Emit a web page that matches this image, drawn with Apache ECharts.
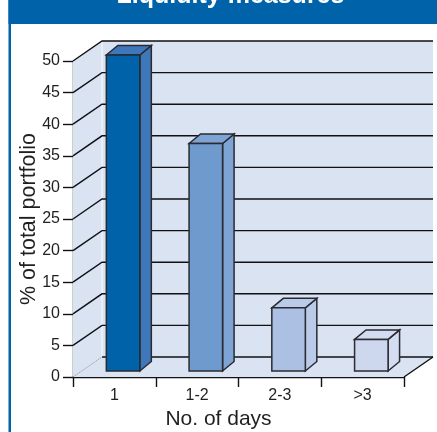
<!DOCTYPE html>
<html>
<head>
<meta charset="utf-8">
<style>html,body{margin:0;padding:0;background:#fff}#chart{width:437px;height:432px}</style>
<script src="https://cdn.jsdelivr.net/npm/echarts@6/dist/echarts.min.js"></script>
</head>
<body>
<div id="chart"></div>
<script>
// Liquidity profile of the portfolio, drawn as pseudo-3D columns.
const titleText = 'Liquidity measures';
const yAxisName = '% of total portfolio';
const xAxisName = 'No. of days';
const categories = ['1', '1-2', '2-3', '>3'];
const shareOfPortfolio = [50, 36, 10, 5];
const wallLevels = [5, 10, 15, 20, 25, 30, 35, 40, 45, 50];
const frontColors = ['#0063a9', '#6f9acd', '#acc0e4', '#cdd7ee'];
const sideColors = ['#3f78ba', '#7ea4d6', '#b9cbe9', '#d3dcf0'];

const WALL_DX = 29, WALL_DY = -20;         // depth of the chart box
const BAR_SHIFT_X = 8.7, BAR_SHIFT_Y = -6; // column start inside the floor
const BAR_DX = 11.5, BAR_DY = -9.5;        // depth of a column
const BAR_W = 33.5;
const INK = '#111114';
const FONT = 'Liberation Sans';
const textColor = '#1f1f22';

const chart = echarts.init(document.getElementById('chart'));
const ln = { stroke: INK, lineWidth: 1.4 };

function poly(points, fill) {
  return { type: 'polygon', shape: { points }, style: { fill, stroke: 'none' } };
}

// Floor and back wall: built from the grid rectangle, so they follow the axes.
function renderBox(params, api) {
  const cs = params.coordSys;
  const left = cs.x, right = cs.x + cs.width, bottom = cs.y + cs.height, top = cs.y;
  const fill = '#dae3f2';
  const children = [
    poly([[left, bottom], [left + WALL_DX, bottom + WALL_DY], [left + WALL_DX, top + WALL_DY], [left, top]], fill),
    poly([[left + WALL_DX, bottom + WALL_DY], [right + WALL_DX, bottom + WALL_DY], [right + WALL_DX, top + WALL_DY], [left + WALL_DX, top + WALL_DY]], fill),
    poly([[left, bottom], [right, bottom], [right + WALL_DX, bottom + WALL_DY], [left + WALL_DX, bottom + WALL_DY]], fill),
    { type: 'line', shape: { x1: left + WALL_DX, y1: top + WALL_DY, x2: left + WALL_DX, y2: bottom + WALL_DY }, style: { stroke: '#eef2f9', lineWidth: 1.5 } },
    { type: 'line', shape: { x1: left, y1: bottom, x2: left + WALL_DX, y2: bottom + WALL_DY }, style: { stroke: '#9a9a9a', lineWidth: 1, lineDash: [1.5, 1] } },
    { type: 'line', shape: { x1: left + WALL_DX, y1: bottom + WALL_DY, x2: right + WALL_DX, y2: bottom + WALL_DY }, style: ln },
    { type: 'line', shape: { x1: right, y1: bottom, x2: right + WALL_DX, y2: bottom + WALL_DY }, style: ln }
  ];
  return { type: 'group', children };
}

// One gridline per level: diagonal on the side wall, then across the back wall.
function renderLevel(params, api) {
  const cs = params.coordSys;
  const y = api.coord([0, api.value(0)])[1];
  const left = cs.x, right = cs.x + cs.width;
  return {
    type: 'polyline',
    shape: { points: [[left, y], [left + WALL_DX, y + WALL_DY], [right + WALL_DX, y + WALL_DY]] },
    style: { fill: 'none', stroke: INK, lineWidth: 1.4 }
  };
}

// A column: top and side faces first, then the front face.
function renderBar(params, api) {
  const i = api.value(0);
  const base = api.coord([i, 0]);
  const head = api.coord([i, api.value(1)]);
  const x = base[0] - BAR_W / 2 + BAR_SHIFT_X;
  const y0 = base[1] + BAR_SHIFT_Y;
  const y1 = head[1] + BAR_SHIFT_Y;
  const st = { stroke: '#2a2a30', lineWidth: 1.5, lineJoin: 'miter' };
  return {
    type: 'group',
    children: [
      { type: 'polygon', shape: { points: [[x + BAR_W, y1], [x + BAR_W + BAR_DX, y1 + BAR_DY], [x + BAR_W + BAR_DX, y0 + BAR_DY], [x + BAR_W, y0]] }, style: { fill: sideColors[i], ...st } },
      { type: 'polygon', shape: { points: [[x, y1], [x + BAR_DX, y1 + BAR_DY], [x + BAR_W + BAR_DX, y1 + BAR_DY], [x + BAR_W, y1]] }, style: { fill: sideColors[i], ...st } },
      { type: 'rect', shape: { x, y: y1, width: BAR_W, height: y0 - y1 }, style: { fill: frontColors[i], ...st } }
    ]
  };
}

chart.setOption({
  animation: false,
  graphic: [
    { type: 'rect', shape: { x: 8.5, y: 0, width: 428.5, height: 24 }, style: { fill: '#0063a9' }, silent: true },
    { type: 'rect', shape: { x: 8.5, y: 0, width: 2.5, height: 432 }, style: { fill: '#0063a9' }, silent: true },
    { type: 'text', x: 230.5, y: 9, style: { text: titleText, fill: '#fff', font: 'bold 25px "Liberation Sans"', align: 'center', verticalAlign: 'bottom' }, silent: true }
  ],
  grid: { left: 73, top: 61, width: 331, height: 316, outerBoundsMode: 'none' },
  xAxis: {
    type: 'category', data: categories,
    name: xAxisName, nameLocation: 'middle', nameGap: 32, nameMoveOverlap: false,
    nameTextStyle: { fontFamily: FONT, fontSize: 21, color: textColor, padding: [0, 40, 0, 0] },
    axisLine: { lineStyle: { color: INK, width: 1.4 } },
    axisTick: { show: true, alignWithLabel: false, length: 10, lineStyle: { color: INK, width: 1.4 } },
    axisLabel: { fontFamily: FONT, fontSize: 16, color: textColor, margin: 11 }
  },
  yAxis: {
    type: 'value', min: 0, max: 50, interval: 5,
    name: yAxisName, nameLocation: 'middle', nameGap: 33, nameRotate: 90, nameMoveOverlap: false,
    nameTextStyle: { fontFamily: FONT, fontSize: 21.5, color: textColor },
    splitLine: { show: false },
    axisLine: { show: true, lineStyle: { color: INK, width: 1.4 } },
    axisTick: { show: true, length: 10, lineStyle: { color: INK, width: 1.4 } },
    axisLabel: { fontFamily: FONT, fontSize: 16, color: textColor, margin: 13 }
  },
  series: [
    { type: 'custom', coordinateSystem: 'cartesian2d', data: [[0]], renderItem: renderBox, clip: false, silent: true, z: 1 },
    { type: 'custom', coordinateSystem: 'cartesian2d', data: wallLevels.map(v => [v]), encode: { y: 0 }, renderItem: renderLevel, clip: false, silent: true, z: 2 },
    { type: 'custom', coordinateSystem: 'cartesian2d', data: shareOfPortfolio.map((v, i) => [i, v]), encode: { x: 0, y: 1 }, renderItem: renderBar, clip: false, silent: true, z: 3 }
  ]
});
</script>
</body>
</html>
